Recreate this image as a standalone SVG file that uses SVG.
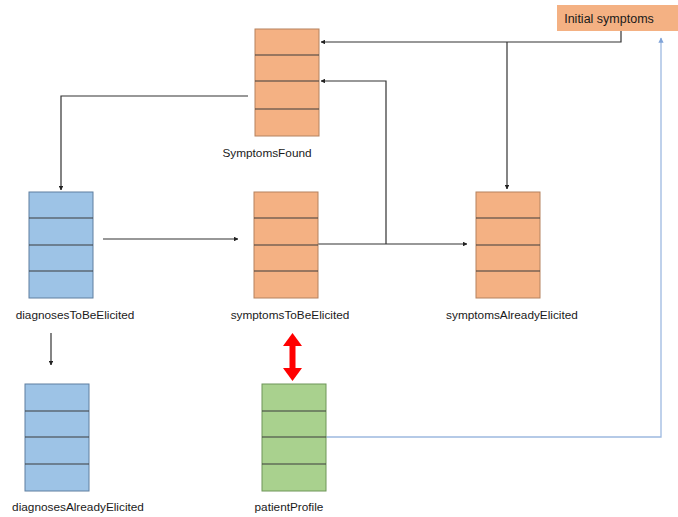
<svg xmlns="http://www.w3.org/2000/svg" width="678" height="517" viewBox="0 0 678 517">
<style>
.lbl{font-family:"Liberation Sans",Arial,sans-serif;font-size:11.8px;fill:#1a1a1a;text-anchor:middle}
.or{fill:#F4B183;stroke:#B5825F;stroke-width:1}
.bl{fill:#9DC3E6;stroke:#5F7FA0;stroke-width:1}
.gr{fill:#A9D18E;stroke:#6E9658;stroke-width:1}
.div{stroke:#3c3c3c;stroke-width:1.2}
.con{fill:none;stroke:#333;stroke-width:1.2}
.blue{fill:none;stroke:#9DB9E0;stroke-width:1.3}
</style>
<defs>
<marker id="ah" viewBox="0 0 10 10" refX="9" refY="5" markerWidth="4" markerHeight="4" orient="auto"><path d="M0,0 L10,5 L0,10 z" fill="#222"/></marker>
<marker id="ahb" viewBox="0 0 10 10" refX="9" refY="5" markerWidth="4" markerHeight="4" orient="auto"><path d="M0,0 L10,5 L0,10 z" fill="#7FA3D8"/></marker>
</defs>
<rect width="678" height="517" fill="#fff"/>
<g id="connectors">
<polyline class="con" points="621,31 621,42 321,42" marker-end="url(#ah)"/>
<polyline class="con" points="507,42 507,189" marker-end="url(#ah)"/>
<polyline class="con" points="248,96 61,96 61,190" marker-end="url(#ah)"/>
<line class="con" x1="103" y1="239" x2="238" y2="239" marker-end="url(#ah)"/>
<polyline class="con" points="318,244 467,244" marker-end="url(#ah)"/>
<polyline class="con" points="386,244 386,81 321,81" marker-end="url(#ah)"/>
<line class="con" x1="51" y1="333" x2="51" y2="365" marker-end="url(#ah)"/>
<polyline class="blue" points="326,437 661,437 661,38" marker-end="url(#ahb)"/>
<g id="red-double-arrow">
<rect x="289.5" y="343" width="6" height="28" fill="#FF0000"/>
<polygon points="292.5,333 302,346 283,346" fill="#FF0000"/>
<polygon points="292.5,381 302,368 283,368" fill="#FF0000"/>
</g>
</g>
<g id="initialSymptoms">
<rect x="557" y="5" width="121" height="26" fill="#F4B183"/>
<text class="lbl" x="609" y="23" style="font-size:12.5px">Initial symptoms</text>
</g>
<g id="SymptomsFound">
<rect class="or" x="255" y="29" width="64" height="107"/>
<line class="div" x1="255" y1="55" x2="319" y2="55"/>
<line class="div" x1="255" y1="81" x2="319" y2="81"/>
<line class="div" x1="255" y1="109" x2="319" y2="109"/>
<text class="lbl" x="267" y="157">SymptomsFound</text>
</g>
<g id="diagnosesToBeElicited">
<rect class="bl" x="29" y="192" width="64" height="106"/>
<line class="div" x1="29" y1="218" x2="93" y2="218"/>
<line class="div" x1="29" y1="245" x2="93" y2="245"/>
<line class="div" x1="29" y1="271" x2="93" y2="271"/>
<text class="lbl" x="75" y="319">diagnosesToBeElicited</text>
</g>
<g id="symptomsToBeElicited">
<rect class="or" x="254" y="192" width="64" height="106"/>
<line class="div" x1="254" y1="218" x2="318" y2="218"/>
<line class="div" x1="254" y1="245" x2="318" y2="245"/>
<line class="div" x1="254" y1="271" x2="318" y2="271"/>
<text class="lbl" x="290" y="319">symptomsToBeElicited</text>
</g>
<g id="symptomsAlreadyElicited">
<rect class="or" x="476" y="192" width="64" height="106"/>
<line class="div" x1="476" y1="218" x2="540" y2="218"/>
<line class="div" x1="476" y1="245" x2="540" y2="245"/>
<line class="div" x1="476" y1="271" x2="540" y2="271"/>
<text class="lbl" x="512" y="319">symptomsAlreadyElicited</text>
</g>
<g id="diagnosesAlreadyElicited">
<rect class="bl" x="25" y="384" width="64" height="107"/>
<line class="div" x1="25" y1="411" x2="89" y2="411"/>
<line class="div" x1="25" y1="437" x2="89" y2="437"/>
<line class="div" x1="25" y1="464" x2="89" y2="464"/>
<text class="lbl" x="78" y="511">diagnosesAlreadyElicited</text>
</g>
<g id="patientProfile">
<rect class="gr" x="262" y="384" width="64" height="107"/>
<line class="div" x1="262" y1="411" x2="326" y2="411"/>
<line class="div" x1="262" y1="437" x2="326" y2="437"/>
<line class="div" x1="262" y1="464" x2="326" y2="464"/>
<text class="lbl" x="289" y="511">patientProfile</text>
</g>
</svg>
